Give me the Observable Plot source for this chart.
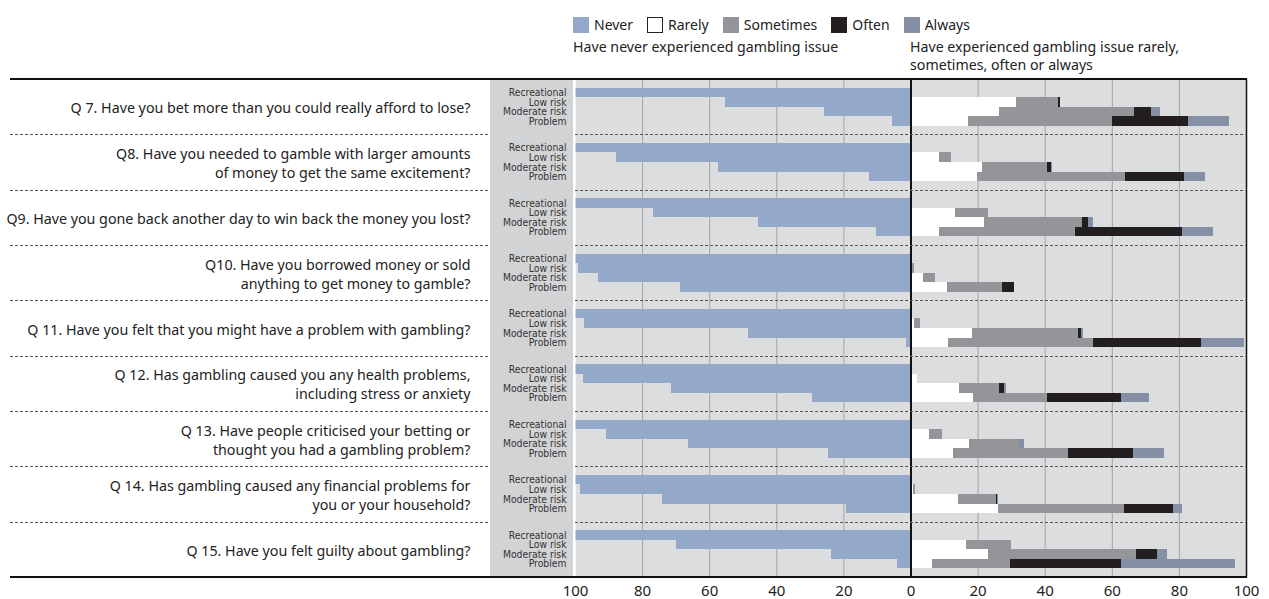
<!DOCTYPE html>
<html>
<head>
<meta charset="utf-8">
<script src="https://cdn.jsdelivr.net/npm/d3@7"></script>
<script src="https://cdn.jsdelivr.net/npm/@observablehq/plot@0.6"></script>
<style>
  html, body { margin: 0; padding: 0; background: #fff; overflow: hidden; }
  body { font-family: "Noto Sans", "Open Sans", sans-serif; color: #222; }
  #wrap { position: relative; width: 1269px; height: 599px; }
  #legend { position: absolute; left: 573px; top: 15px; display: flex; align-items: center; font-size: 14px; line-height: 20px; }
  .item { display: flex; align-items: center; margin-right: 14px; }
  .sw { width: 16px; height: 16px; margin-right: 5px; box-sizing: border-box; }
  .sub { position: absolute; font-size: 14.2px; line-height: 18px; color: #222; }
  #chart { position: absolute; left: 0; top: 75px; }
</style>
</head>
<body>
<div id="wrap">
  <div id="legend"></div>
  <div class="sub" style="left:573px; top:38px;">Have never experienced gambling issue</div>
  <div class="sub" style="left:910px; top:38px;">Have experienced gambling issue rarely,<br>sometimes, often or always</div>
  <div id="chart"></div>
</div>
<script>
// ---------- data ----------
const questions = [
  "Q 7. Have you bet more than you could really afford to lose?",
  "Q8. Have you needed to gamble with larger amounts\nof money to get the same excitement?",
  "Q9. Have you gone back another day to win back the money you lost?",
  "Q10. Have you borrowed money or sold\nanything to get money to gamble?",
  "Q 11. Have you felt that you might have a problem with gambling?",
  "Q 12. Has gambling caused you any health problems,\nincluding stress or anxiety",
  "Q 13. Have people criticised your betting or\nthought you had a gambling problem?",
  "Q 14. Has gambling caused any financial problems for\nyou or your household?",
  "Q 15. Have you felt guilty about gambling?"
];
const riskLevels = ["Recreational", "Low risk", "Moderate risk", "Problem"];
const responses = ["Never", "Rarely", "Sometimes", "Often", "Always"];
const responseColors = ["#94a9c9", "#ffffff", "#939598", "#231f20", "#8590a6"];

// rows: questions, columns: Recreational, Low risk, Moderate risk, Problem (%)
const never = [
  [100, 55.3, 25.7, 5.6],
  [100, 87.8, 57.5, 12.4],
  [100, 76.7, 45.6, 10.3],
  [100, 99.0, 93.1, 68.7],
  [100, 97.3, 48.5, 1.2],
  [100, 97.5, 71.4, 29.4],
  [100, 90.7, 66.4, 24.5],
  [100, 98.4, 74.0, 19.2],
  [100, 69.9, 23.6, 4.0]
];
const rarely = [
  [0, 31.3, 26.4, 17.0],
  [0, 8.4, 21.4, 19.9],
  [0, 13.4, 22.0, 8.4],
  [0, 0.4, 3.7, 10.8],
  [0, 1.1, 18.2, 11.1],
  [0, 2.0, 14.6, 18.5],
  [0, 5.5, 17.3, 12.6],
  [0, 0.8, 14.3, 26.1],
  [0, 16.4, 23.2, 6.4]
];
const sometimes = [
  [0, 12.7, 40.2, 43.1],
  [0, 3.8, 19.4, 44.0],
  [0, 9.7, 29.1, 40.6],
  [0, 0.6, 3.5, 16.5],
  [0, 1.6, 31.8, 43.3],
  [0, 0, 11.8, 22.3],
  [0, 3.8, 15.0, 34.4],
  [0, 0.5, 11.1, 37.5],
  [0, 13.6, 44.0, 23.3]
];
const often = [
  [0, 0.6, 5.0, 22.7],
  [0, 0, 1.2, 17.7],
  [0, 0, 1.8, 31.8],
  [0, 0, 0, 3.5],
  [0, 0, 0.9, 32.1],
  [0, 0, 1.5, 22.0],
  [0, 0, 0, 19.4],
  [0, 0, 0.3, 14.5],
  [0, 0, 6.2, 33.1]
];
const always = [
  [0, 0, 2.7, 12.0],
  [0, 0, 0.3, 6.2],
  [0, 0, 1.5, 9.3],
  [0, 0, 0, 0],
  [0, 0, 0.4, 12.9],
  [0, 0, 0.7, 8.3],
  [0, 0, 1.5, 9.2],
  [0, 0, 0.3, 2.7],
  [0, 0, 3.2, 33.8]
];
const axisTicks = [-100, -80, -60, -40, -20, 0, 20, 40, 60, 80, 100];
const gridTicks = [-80, -60, -40, -20, 20, 40, 60, 80];

(function () {
  // ---------- legend ----------
  const legend = document.getElementById("legend");
  responses.forEach((r, i) => {
    const it = document.createElement("div");
    it.className = "item";
    const sw = document.createElement("div");
    sw.className = "sw";
    sw.style.background = responseColors[i];
    if (r === "Rarely") sw.style.border = "1.3px solid #222";
    const t = document.createElement("span");
    t.textContent = r;
    it.appendChild(sw); it.appendChild(t);
    legend.appendChild(it);
  });

  // ---------- table ----------
  const series = [never, rarely, sometimes, often, always];
  const rows = [];
  questions.forEach((q, qi) => {
    riskLevels.forEach((risk, ri) => {
      series.forEach((s, si) => {
        const v = s[qi][ri];
        if (v > 0) rows.push({question: q, risk, response: responses[si], value: si === 0 ? -v : v});
      });
    });
  });

  const narrow = "'Liberation Sans Narrow', 'DejaVu Sans Condensed', 'Roboto Condensed', sans-serif";

  const plot = Plot.plot({
    width: 1269,
    height: 524,
    marginTop: 4,
    marginBottom: 22,
    marginLeft: 575,
    marginRight: 23,
    style: {fontFamily: "'Noto Sans', sans-serif", background: "transparent", color: "#222"},
    x: {domain: [-100, 100]},
    y: {domain: riskLevels, paddingInner: 0, paddingOuter: 0.9, round: false},
    fy: {domain: questions, padding: 0, axis: null, round: false},
    color: {domain: responses, range: responseColors},
    marks: [
      Plot.frame({fill: "#dcdddf", stroke: null}),
      Plot.ruleX(gridTicks, {stroke: "#a2a3a5", strokeWidth: 1}),
      Plot.barX(rows, {x: "value", y: "risk", fy: "question", fill: "response", shapeRendering: "crispEdges"}),
      Plot.ruleX([0], {stroke: "#111", strokeWidth: 2}),
      Plot.ruleX([100], {stroke: "#111", strokeWidth: 1.5}),
      Plot.ruleX([-100], {stroke: "#fff", strokeWidth: 2, dx: -1}),
      Plot.axisY({tickSize: 0, tickPadding: 9, fontSize: 10.3, fontFamily: narrow, color: "#333", label: null}),
      Plot.axisX({ticks: axisTicks, tickFormat: d => Math.abs(d), tickSize: 0, tickPadding: 8, fontSize: 15, label: null, color: "#222"}),
      Plot.text(questions, {fy: d => d, text: d => d, frameAnchor: "left", dx: -105, textAnchor: "end", fontSize: 14.25, lineHeight: 1.34, fill: "#222"})
    ]
  });
  document.getElementById("chart").appendChild(plot);

  // ---------- decorations: separators, label panel, borders ----------
  const svg = d3.select(plot);
  const fy = plot.scale("fy");
  const xs = plot.scale("x");
  const xLeft = xs.apply(-100), xRight = xs.apply(100);
  const yTop = fy.apply(questions[0]);
  const yBottom = fy.apply(questions[questions.length - 1]) + fy.bandwidth;
  const panelLeft = xLeft - 85, panelRight = xLeft - 2;

  svg.insert("rect", ":first-child")
    .attr("x", panelLeft).attr("y", yTop).attr("width", panelRight - panelLeft).attr("height", yBottom - yTop)
    .attr("fill", "#d2d3d5");

  const g = svg.append("g");
  questions.slice(1).forEach(q => {
    const y = Math.round(fy.apply(q)) + 0.5;
    [[10, panelLeft], [xLeft, xRight]].forEach(([a, b]) => {
      g.append("line").attr("x1", a).attr("x2", b).attr("y1", y).attr("y2", y)
        .attr("stroke", "#555").attr("stroke-width", 1).attr("stroke-dasharray", "3,2");
    });
  });
  [yTop, yBottom].forEach(y => {
    g.append("line").attr("x1", 10).attr("x2", xRight + 1).attr("y1", y).attr("y2", y)
      .attr("stroke", "#111").attr("stroke-width", 2);
  });
})();
</script>
</body>
</html>
